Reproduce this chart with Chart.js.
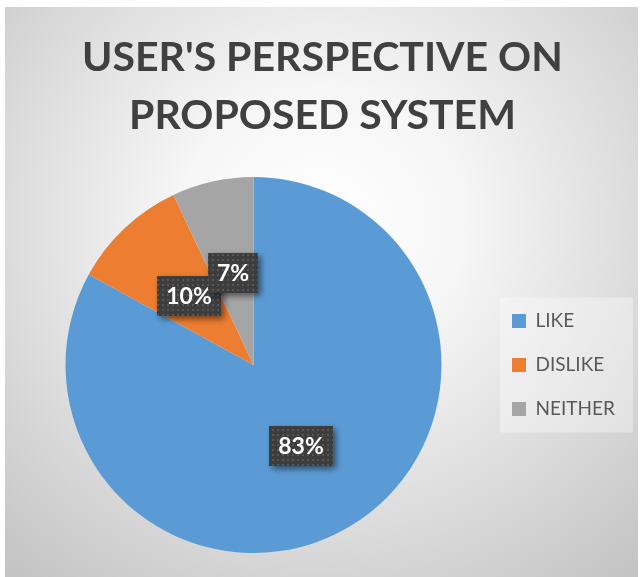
<!DOCTYPE html>
<html><head><meta charset="utf-8">
<script src="https://cdn.jsdelivr.net/npm/chart.js@4.4.1/dist/chart.umd.min.js"></script>
<style>
html,body{margin:0;padding:0;background:#fff;width:640px;height:577px;overflow:hidden}
#frame{position:absolute;left:5px;top:7px;width:633px;height:570px;
background:radial-gradient(ellipse 75% 80% at 50% 38%, #ffffff 0%, #f6f6f6 30%, #c4c4c4 100%);}
canvas{display:block}
</style></head><body>
<div id="frame"><canvas id="c" width="633" height="570"></canvas></div>
<script>
const titleLines = ["USER'S PERSPECTIVE ON", "PROPOSED SYSTEM"];
const categories = ["LIKE", "DISLIKE", "NEITHER"];
const shares = [83, 10, 7];
const sliceColors = ["#5B9BD5", "#ED7D31", "#A5A5A5"];

function makePattern(ctx){
  const t = document.createElement('canvas');
  t.width = 5; t.height = 5;
  const g = t.getContext('2d');
  g.fillStyle = '#3d3d3d'; g.fillRect(0,0,5,5);
  g.fillStyle = '#565656'; g.fillRect(2,2,2,2);
  return ctx.createPattern(t,'repeat');
}

function build(){
  const canvas = document.getElementById('c');
  const ctx = canvas.getContext('2d');
  const pattern = makePattern(ctx);

  const legendFontSize = 19, legendPad = 25, legendBox = 14;
  ctx.font = legendFontSize + 'px Lato';
  const maxText = Math.max(...categories.map(s => ctx.measureText(s).width));
  const legendWidth = legendPad + legendBox + legendFontSize/2 + maxText + 10;
  const legendLeft = 482;
  const rightPad = Math.max(0, 633 - legendLeft - legendWidth);

  const labelPlugin = {
    id: 'boxLabels',
    afterDatasetsDraw(chart){
      const c = chart.ctx;
      const meta = chart.getDatasetMeta(0);
      const data = chart.data.datasets[0].data;
      const total = data.reduce((a,b)=>a+b,0);
      c.save();
      c.font = 'bold 23px Lato';
      meta.data.forEach((arc,i)=>{
        const p = arc.tooltipPosition();
        const txt = Math.round(data[i]/total*100) + '%';
        const w = Math.round(c.measureText(txt).width + 18);
        const h = 40;
        const x = Math.round(p.x - w/2), y = Math.round(p.y - h/2);
        c.save();
        c.shadowColor = 'rgba(0,0,0,0.5)';
        c.shadowBlur = 6; c.shadowOffsetX = 3; c.shadowOffsetY = 3;
        c.fillStyle = pattern; c.fillRect(x,y,w,h);
        c.restore();
        c.fillStyle = '#ffffff'; c.textAlign = 'center'; c.textBaseline = 'middle';
        c.fillText(txt, x + w/2, y + h/2 + 1);
      });
      c.restore();
    }
  };

  const legendBgPlugin = {
    id: 'legendBg',
    beforeDraw(chart){
      const lg = chart.legend;
      if (!lg || !lg.legendHitBoxes || !lg.legendHitBoxes.length) return;
      const hb = lg.legendHitBoxes;
      const top = hb[0].top - 14;
      const bottom = hb[hb.length-1].top + hb[hb.length-1].height + 14;
      const c = chart.ctx;
      const left = lg.left + 13;
      c.save();
      c.fillStyle = 'rgba(255,255,255,0.35)';
      c.fillRect(left, top, chart.width - 5 - left, bottom - top);
      c.restore();
    }
  };

  new Chart(ctx, {
    type: 'pie',
    data: {
      labels: categories,
      datasets: [{ data: shares, backgroundColor: sliceColors, borderWidth: 0 }]
    },
    options: {
      responsive: false,
      animation: false,
      layout: { padding: { left: 15, right: rightPad, top: 0, bottom: 24 } },
      plugins: {
        title: {
          display: true,
          text: titleLines,
          color: '#404040',
          font: { family: 'Lato', weight: 'bold', size: 41, lineHeight: 1.415 },
          padding: { top: 22, bottom: 32 }
        },
        legend: {
          position: 'right',
          fullSize: false,
          labels: {
            color: '#595959',
            font: { family: 'Lato', size: legendFontSize },
            boxWidth: legendBox, boxHeight: legendBox,
            padding: legendPad
          }
        },
        tooltip: { enabled: false }
      }
    },
    plugins: [legendBgPlugin, labelPlugin]
  });
}

Promise.all([
  document.fonts.load('19px Lato'),
  document.fonts.load('bold 41px Lato'),
  document.fonts.load('bold 23px Lato')
]).then(build, build);
</script>
</body></html>
